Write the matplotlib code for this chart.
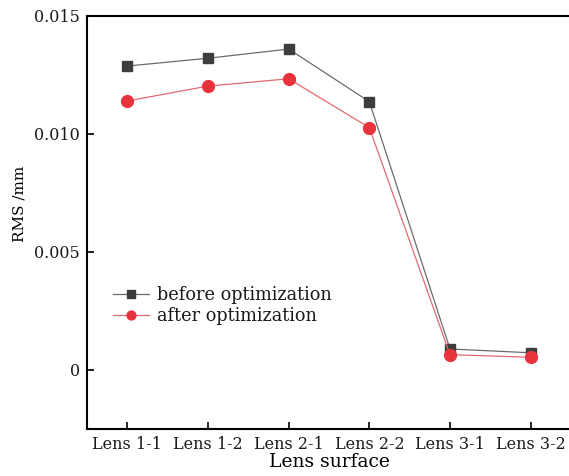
import matplotlib.pyplot as plt
import numpy as np

surfaces = ['Lens 1-1', 'Lens 1-2', 'Lens 2-1', 'Lens 2-2', 'Lens 3-1', 'Lens 3-2']
rms_before = [0.01288, 0.01321, 0.01360, 0.01137, 0.00089, 0.00073]
rms_after = [0.01140, 0.01203, 0.01234, 0.01027, 0.00065, 0.00054]

plt.rcParams['font.family'] = ['DejaVu Serif']
plt.rcParams['text.color'] = '#1a1a1a'

W, H = 569, 476
fig = plt.figure(figsize=(W / 100, H / 100), dpi=100)
ax = fig.add_axes([87 / W, 1 - 429 / H, 484 / W, (429 - 16) / H])

xs = np.arange(len(surfaces))
ax.plot(xs, rms_before, color='#6b6b6b', lw=0.9, marker='s', ms=7.5,
        mfc='#3d3d3d', mec='#3d3d3d', label='before optimization')
ax.plot(xs, rms_after, color='#e06a70', lw=0.9, marker='o', ms=8.5,
        mfc='#e8323c', mec='#e8323c', label='after optimization')

ax.set_xlim(-0.5, 5.5)
ax.set_ylim(-0.0025, 0.015)
ax.set_xticks(xs)
ax.set_xticklabels(surfaces)
ax.set_yticks([0, 0.005, 0.010, 0.015])
ax.set_yticklabels(['0', '0.005', '0.010', '0.015'])
ax.tick_params(direction='in', length=5, width=1.2, labelsize=11.5, pad=5,
               labelcolor='#1a1a1a')

for s in ['left', 'bottom', 'top']:
    ax.spines[s].set_linewidth(1.5)
ax.spines['right'].set_visible(False)

ax.set_xlabel('Lens surface', fontsize=13.5, labelpad=0)
ax.set_ylabel('RMS /mm', fontsize=11)
ax.yaxis.set_label_coords(-0.126, 0.545)

ax.legend(loc='lower left', bbox_to_anchor=(0.04, 0.235), frameon=False,
          fontsize=12.8, handlelength=2.0, handletextpad=0.45, labelspacing=0.15,
          markerscale=0.75, borderaxespad=0)

fig.savefig('out.png', dpi=100)
